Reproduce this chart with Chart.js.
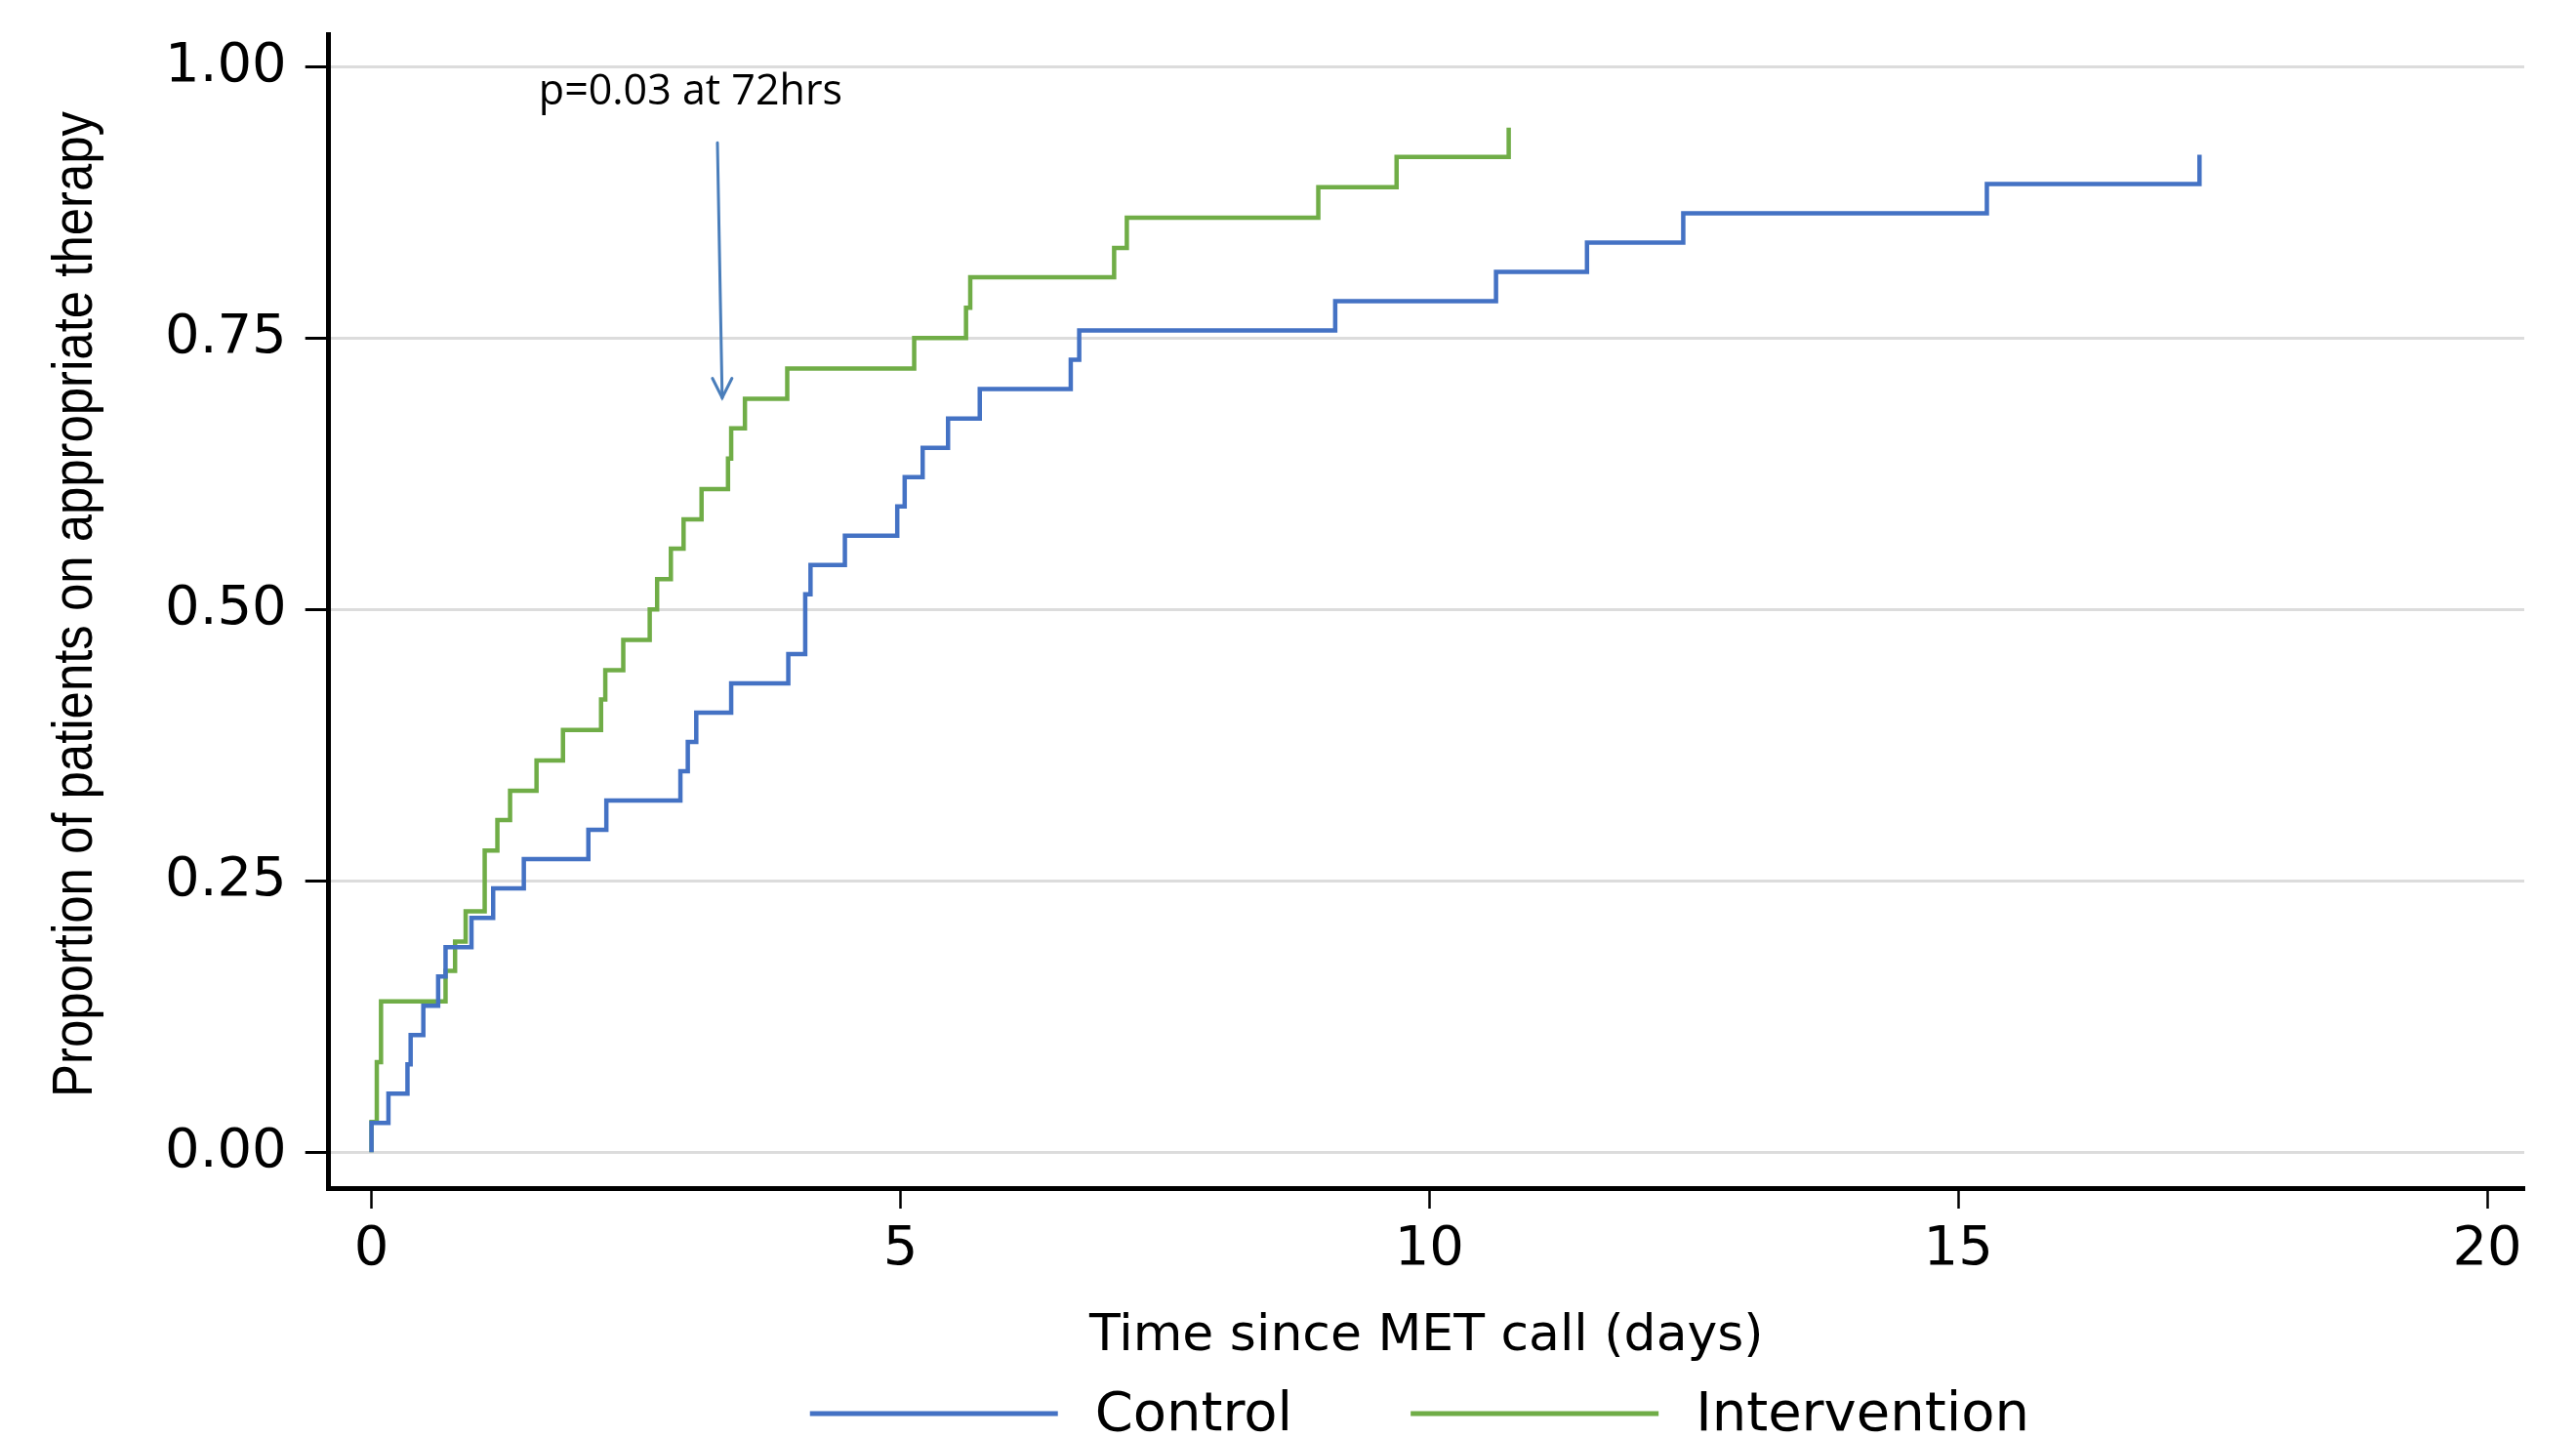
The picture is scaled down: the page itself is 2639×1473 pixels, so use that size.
<!DOCTYPE html>
<html>
<head>
<meta charset="utf-8">
<script src="https://cdn.jsdelivr.net/npm/chart.js@4.4.1/dist/chart.umd.min.js"></script>
<style>
  html, body { margin: 0; padding: 0; background: #fff; }
</style>
</head>
<body>
<canvas id="kmChart" width="2639" height="1473"></canvas>
<script>
// Control: time since MET call (days) and proportion on appropriate therapy
var controlDays = [0, 0, 0.16, 0.34, 0.37, 0.49, 0.63, 0.70, 0.945, 1.15, 1.44, 2.05, 2.22, 2.92, 2.99, 3.07, 3.40, 3.94,
  4.10, 4.15, 4.475, 4.97, 5.04, 5.21, 5.45, 5.75, 6.61, 6.69, 9.11, 10.63, 11.49, 12.40, 15.27, 17.28];
var controlProp = [0, 0.027, 0.054, 0.081, 0.108, 0.135, 0.162, 0.189, 0.216, 0.243, 0.270, 0.297, 0.324, 0.351, 0.378, 0.405, 0.432, 0.459,
  0.514, 0.541, 0.568, 0.595, 0.622, 0.649, 0.676, 0.703, 0.730, 0.757, 0.784, 0.811, 0.838, 0.865, 0.892, 0.919];

// Intervention
var interventionDays = [0, 0, 0.05, 0.09, 0.70, 0.79, 0.89, 1.07, 1.19, 1.31, 1.56, 1.81, 2.17, 2.21, 2.38, 2.63, 2.70, 2.83,
  2.95, 3.12, 3.37, 3.40, 3.53, 3.93, 5.13, 5.62, 5.66, 7.02, 7.14, 8.95, 9.69, 10.75];
var interventionProp = [0, 0.028, 0.083, 0.139, 0.167, 0.194, 0.222, 0.278, 0.306, 0.333, 0.361, 0.389, 0.417, 0.444, 0.472, 0.500, 0.528, 0.556,
  0.583, 0.611, 0.639, 0.667, 0.694, 0.722, 0.750, 0.778, 0.806, 0.833, 0.861, 0.889, 0.917, 0.944];

var xTickValues = [0, 5, 10, 15, 20];
var yTickValues = [0, 0.25, 0.5, 0.75, 1];
var seriesLabels = ["Control", "Intervention"];
var xTitle = "Time since MET call (days)";
var yTitle = "Proportion of patients on appropriate therapy";
var noteText = "p=0.03 at 72hrs";

function toPoints(days, prop) {
  return days.map(function (d, i) {
    return { x: d, y: prop[i] };
  });
}

// 注記の位置 (データ座標)
var note = { textX: 1.58, textY: 0.9656, fromX: 3.27, fromY: 0.93, toX: 3.315, toY: 0.695 };

var kmExtras = {
  id: "kmExtras",
  afterDraw: function (chart) {
    var ctx = chart.ctx;
    var xs = chart.scales.x;
    var ys = chart.scales.y;
    var area = chart.chartArea;
    ctx.save();

    // y axis title, narrow like the original
    ctx.font = '58px "Liberation Sans"';
    ctx.fillStyle = "#000";
    ctx.textAlign = "center";
    ctx.textBaseline = "middle";
    var tw = ctx.measureText(yTitle).width;
    ctx.save();
    ctx.translate(78, (area.top + area.bottom) / 2 - 7);
    ctx.rotate(-Math.PI / 2);
    ctx.scale(1010 / tw, 1);
    ctx.fillText(yTitle, 0, 0);
    ctx.restore();

    // p value text + arrow
    ctx.font = '43px "Open Sans"';
    ctx.textBaseline = "alphabetic";
    ctx.textAlign = "left";
    ctx.fillText(noteText, xs.getPixelForValue(note.textX), ys.getPixelForValue(note.textY));

    var x0 = xs.getPixelForValue(note.fromX), y0 = ys.getPixelForValue(note.fromY);
    var x1 = xs.getPixelForValue(note.toX), y1 = ys.getPixelForValue(note.toY);
    ctx.strokeStyle = "#4a7ebb";
    ctx.lineWidth = 3;
    ctx.lineCap = "round";
    ctx.beginPath();
    ctx.moveTo(x0, y0);
    ctx.lineTo(x1, y1);
    ctx.stroke();
    ctx.beginPath();
    ctx.moveTo(x1 - 10, y1 - 20);
    ctx.lineTo(x1, y1);
    ctx.lineTo(x1 + 10, y1 - 20);
    ctx.stroke();

    // legend
    ctx.font = '56px "DejaVu Sans"';
    ctx.textBaseline = "middle";
    var lineLen = 254, gap = 38, spacing = 121;
    var widths = chart.data.datasets.map(function (ds) {
      return lineLen + gap + ctx.measureText(ds.label).width;
    });
    var total = widths.reduce(function (a, b) { return a + b; }, 0) + spacing * (widths.length - 1);
    var x = (area.left + area.right) / 2 - 7 - total / 2;
    var y = 1448;
    chart.data.datasets.forEach(function (ds, i) {
      ctx.strokeStyle = ds.borderColor;
      ctx.lineWidth = 5;
      ctx.lineCap = "butt";
      ctx.beginPath();
      ctx.moveTo(x, y);
      ctx.lineTo(x + lineLen, y);
      ctx.stroke();
      ctx.fillStyle = "#000";
      ctx.fillText(ds.label, x + lineLen + gap, y + 2);
      x += widths[i] + spacing;
    });
    ctx.restore();
  },
};

var kmChartConfig = {
  type: "line",
  data: {
    datasets: [
      {
        label: seriesLabels[0],
        data: toPoints(controlDays, controlProp),
        borderColor: "#4472C4",
        borderWidth: 4.5,
        stepped: "before",
        pointRadius: 0,
        fill: false,
      },
      {
        label: seriesLabels[1],
        data: toPoints(interventionDays, interventionProp),
        borderColor: "#70AD47",
        borderWidth: 4.5,
        stepped: "before",
        pointRadius: 0,
        fill: false,
      },
    ],
  },
  options: {
    responsive: false,
    animation: false,
    layout: {
      padding: { left: 0, top: 35, right: 53, bottom: 66 },
    },
    plugins: {
      legend: { display: false },
      tooltip: { enabled: false },
    },
    scales: {
      x: {
        type: "linear",
        min: -0.405,
        max: 20.35,
        afterBuildTicks: function (scale) {
          scale.ticks = xTickValues.map(function (v) { return { value: v }; });
        },
        afterFit: function (scale) {
          scale.height = 190;
          scale.paddingLeft = 0;
          scale.paddingRight = 0;
        },
        grid: {
          drawOnChartArea: false,
          drawTicks: true,
          tickLength: 21,
          tickColor: "#000",
          tickWidth: 2.5,
        },
        border: { display: true, color: "#000", width: 5 },
        ticks: {
          color: "#000",
          padding: 9,
          maxRotation: 0,
          autoSkip: false,
          font: { family: '"DejaVu Sans"', size: 56 },
          callback: function (value) {
            return String(value);
          },
        },
        title: {
          display: true,
          text: xTitle,
          color: "#000",
          font: { family: '"DejaVu Sans"', size: 52 },
          padding: { top: 0, bottom: 6 },
        },
      },
      y: {
        type: "linear",
        min: -0.033,
        max: 1.03,
        afterBuildTicks: function (scale) {
          scale.ticks = yTickValues.map(function (v) { return { value: v }; });
        },
        afterFit: function (scale) {
          scale.width = 336.7;
          scale.paddingTop = 0;
          scale.paddingBottom = 0;
        },
        grid: {
          color: "#dcdcdc",
          lineWidth: 3,
          drawTicks: true,
          tickLength: 24,
          tickColor: "#000",
          tickWidth: 3,
        },
        border: { display: true, color: "#000", width: 5 },
        ticks: {
          color: "#000",
          padding: 19,
          autoSkip: false,
          font: { family: '"DejaVu Sans"', size: 56 },
          callback: function (value) {
            return Number(value).toFixed(2);
          },
        },
        title: { display: false },
      },
    },
  },
  plugins: [kmExtras],
};

var kmChart = new Chart(document.getElementById("kmChart"), kmChartConfig);
</script>
</body>
</html>
